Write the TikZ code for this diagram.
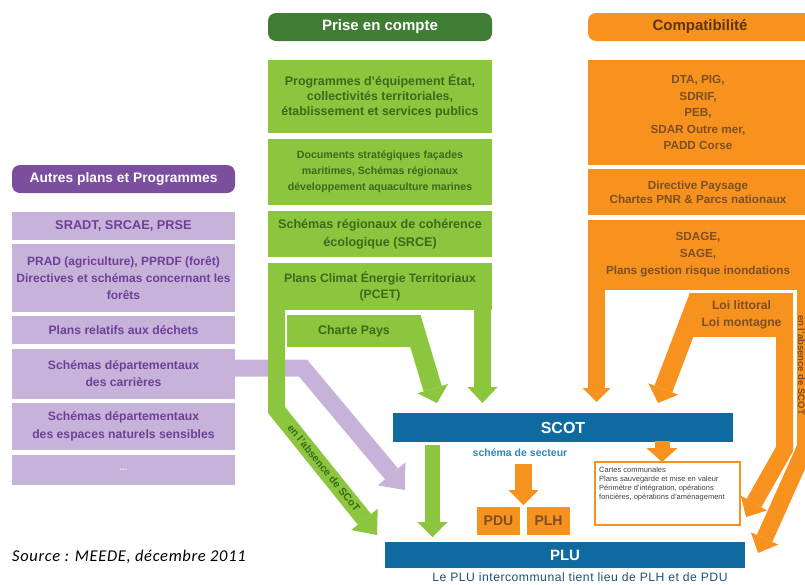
\documentclass[tikz,border=0pt]{standalone}
\usepackage{fontspec}
\setmainfont{Liberation Sans}
\newfontfamily\srcfont[LetterSpace=4]{Carlito}
\newfontfamily\notefont[LetterSpace=4]{Liberation Sans}
\usetikzlibrary{arrows.meta}
\definecolor{dgreen}{HTML}{3F7E34}
\definecolor{lgreen}{HTML}{8CC63E}
\definecolor{gtext}{HTML}{3A6A1C}
\definecolor{dpurple}{HTML}{7C4F9E}
\definecolor{lpurple}{HTML}{C7B3DA}
\definecolor{ptext}{HTML}{6F3F98}
\definecolor{orng}{HTML}{F7921E}
\definecolor{otext}{HTML}{7D4F26}
\definecolor{ohead}{HTML}{5C3412}
\definecolor{scotblue}{HTML}{0F6B9F}
\definecolor{secblue}{HTML}{2B86BD}
\definecolor{bottomblue}{HTML}{1F4F7C}
\tikzset{
  box/.style={inner sep=0pt, outer sep=0pt, align=center},
  gbox/.style={box, fill=lgreen, text=gtext, minimum width=224pt},
  pbox/.style={box, fill=lpurple, text=ptext, minimum width=223pt},
  obox/.style={box, fill=orng, text=otext, minimum width=220pt},
  head/.style={box, rounded corners=8pt, minimum height=28pt, font=\bfseries\fontsize{15}{17}\selectfont},
  bar/.style={box, fill=scotblue, text=white},
  arr/.style n args={4}{draw=#1, line width=#2, -{Triangle[width=#3,length=#4,line width=0pt]}},
}
\begin{document}
\begin{tikzpicture}[x=1pt,y=-1pt]
\useasboundingbox (0,0) rectangle (805,584);
\clip (0,0) rectangle (805,584);

% ---- green column
\node[head, fill=dgreen, text=white, minimum width=224pt] (hG) at (380,27) {Prise en compte};
\node[gbox, minimum height=73pt, font=\bfseries\fontsize{12.4}{15}\selectfont] (g1) at (380,96.5)
  {Programmes d'équipement État,\\collectivités territoriales,\\établissement et services publics};
\node[gbox, minimum height=66pt, font=\bfseries\fontsize{10.6}{16}\selectfont] (g2) at (380,172)
  {Documents stratégiques façades\\maritimes, Schémas régionaux\\développement aquaculture marines};
\node[gbox, minimum height=46pt, font=\bfseries\fontsize{12.6}{18}\selectfont] (g3) at (380,234)
  {Schémas régionaux de cohérence\\écologique (SRCE)};
\node[gbox, minimum height=47pt, font=\bfseries\fontsize{12.2}{16}\selectfont] (g4) at (380,286.5)
  {Plans Climat Énergie Territoriaux\\(PCET)};
\node[box, fill=lgreen, text=gtext, minimum width=134pt, minimum height=32pt, font=\bfseries\fontsize{12.4}{15}\selectfont] (charte) at (354,331) {Charte Pays};

% ---- purple column
\node[head, fill=dpurple, text=white, minimum width=223pt, font=\bfseries\fontsize{13.8}{16}\selectfont] (hP) at (123.5,179) {Autres plans et Programmes};
\node[pbox, minimum height=28pt, font=\bfseries\fontsize{12.8}{16}\selectfont] (p1) at (123.5,226) {SRADT, SRCAE, PRSE};
\node[pbox, minimum height=68pt, font=\bfseries\fontsize{12}{17}\selectfont] (p2) at (123.5,278)
  {PRAD (agriculture), PPRDF (forêt)\\Directives et schémas concernant les\\forêts};
\node[pbox, minimum height=28pt, font=\bfseries\fontsize{12.2}{16}\selectfont] (p3) at (123.5,330) {Plans relatifs aux déchets};
\node[pbox, minimum height=50pt, font=\bfseries\fontsize{12.2}{17}\selectfont] (p4) at (123.5,374) {Schémas départementaux\\des carrières};
\node[pbox, minimum height=47pt, font=\bfseries\fontsize{12.2}{18}\selectfont] (p5) at (123.5,426.5) {Schémas départementaux\\des espaces naturels sensibles};
\node[pbox, minimum height=30pt, text=white!85!lpurple, font=\bfseries\fontsize{9}{12}\selectfont] (p6) at (123.5,470) {...};

% ---- orange column
\node[head, fill=orng, text=ohead, minimum width=224pt] (hO) at (700,27) {Compatibilité};
\node[obox, minimum height=105pt, font=\bfseries\fontsize{11.7}{16.5}\selectfont] (o1) at (698,112.5)
  {DTA, PIG,\\SDRIF,\\PEB,\\SDAR Outre mer,\\PADD Corse};
\node[obox, minimum height=46pt, font=\bfseries\fontsize{11.7}{14}\selectfont] (o2) at (698,192)
  {Directive Paysage\\Chartes PNR \& Parcs nationaux};
\node[obox, minimum height=70pt, font=\bfseries\fontsize{11.7}{17}\selectfont] (o3) at (698,255)
  {SDAGE,\\SAGE,\\Plans gestion risque inondations};
\node[box, fill=orng, text=otext, minimum width=103pt, minimum height=44pt, font=\bfseries\fontsize{12.2}{17}\selectfont] (loi) at (741.5,315) {Loi littoral\\Loi montagne};

% ---- tips of the block arrows
\coordinate (tGR) at (482.5,403);
\coordinate (tGL) at (377,535);
\coordinate (tCh) at (437,403);
\coordinate (tP) at (405,490);
\coordinate (tOL) at (596.5,402);
\coordinate (tLoi) at (658,403);
\coordinate (tLR) at (746,517);
\coordinate (tOut) at (758,553);

% purple arrow (below green)
\draw[arr={lpurple}{17pt}{36pt}{21pt}] (228,368) -- (303,368) -- (tP);
% green arrows
\draw[arr={lgreen}{17pt}{30pt}{16pt}] (482.5,305) -- (tGR);
\draw[arr={lgreen}{17pt}{34pt}{20pt}] (276.5,305) -- (276.5,410) -- (tGL);
\draw[arr={lgreen}{19pt}{32pt}{15pt}] (411.4,317.75) -- (tCh);
% orange arrows
\draw[arr={orng}{17pt}{28pt}{14pt}] (596.5,285) -- (tOL);
\draw[arr={orng}{19pt}{32pt}{15pt}] (698.8,296) -- (tLoi);
\draw[arr={orng}{17pt}{30pt}{16pt}] (784.5,330) -- (784.5,449) -- (tLR);
\draw[arr={orng}{17pt}{30pt}{16pt}] (805.5,285) -- (805.5,447) -- (tOut);

\node[rotate=-51, text=gtext, font=\bfseries\fontsize{10.5}{11}\selectfont] (absG) at (324,468) {en l'absence de SCoT};
\node[rotate=-90, text=otext, font=\bfseries\fontsize{9.5}{10}\selectfont] (absO) at (801.5,365) {en l'absence de SCOT};

% ---- SCOT / PLU
\node[bar, minimum width=340pt, minimum height=29pt, font=\bfseries\fontsize{16}{18}\selectfont] (scot) at (563,427.5) {SCOT};
\node[bar, minimum width=360pt, minimum height=26pt, font=\bfseries\fontsize{15}{17}\selectfont] (plu) at (565,555) {PLU};
\node[text=secblue, font=\bfseries\fontsize{10.5}{12}\selectfont] (sect) at (520,453) {schéma de secteur};
\node[box, fill=orng, text=otext, minimum width=43pt, minimum height=28pt, font=\bfseries\fontsize{14}{16}\selectfont] (pdu) at (498.5,521) {PDU};
\node[box, fill=orng, text=otext, minimum width=43pt, minimum height=28pt, font=\bfseries\fontsize{14}{16}\selectfont] (plh) at (548.5,521) {PLH};
\node[box, draw=orng, line width=2pt, fill=white, minimum width=145pt, minimum height=63pt] (cartes) at (667.5,493.5) {};
\node[anchor=north west, inner sep=0pt, align=left, text=black!75, font=\fontsize{7.5}{8.8}\selectfont] (cartesT) at (599,467)
  {Cartes communales\\Plans sauvegarde et mise en valeur\\Périmètre d'intégration, opérations\\foncières, opérations d'aménagement};

\draw[arr={lgreen}{15pt}{30pt}{15pt}] (432.5,445) -- (432.5,537);
\draw[arr={orng}{17pt}{30pt}{15pt}] (523.5,464) -- (523.5,505);
\draw[arr={orng}{15pt}{31pt}{14pt}] (662,441) -- (662,462);

\node[text=bottomblue, font=\notefont\fontsize{12.2}{13}\selectfont] (note) at (580,577) {Le PLU intercommunal tient lieu de PLH et de PDU};
\node[anchor=west, inner sep=0pt, font=\srcfont\itshape\fontsize{16.5}{18}\selectfont] (src) at (12,557) {Source : MEEDE, décembre 2011};
\end{tikzpicture}
\end{document}
